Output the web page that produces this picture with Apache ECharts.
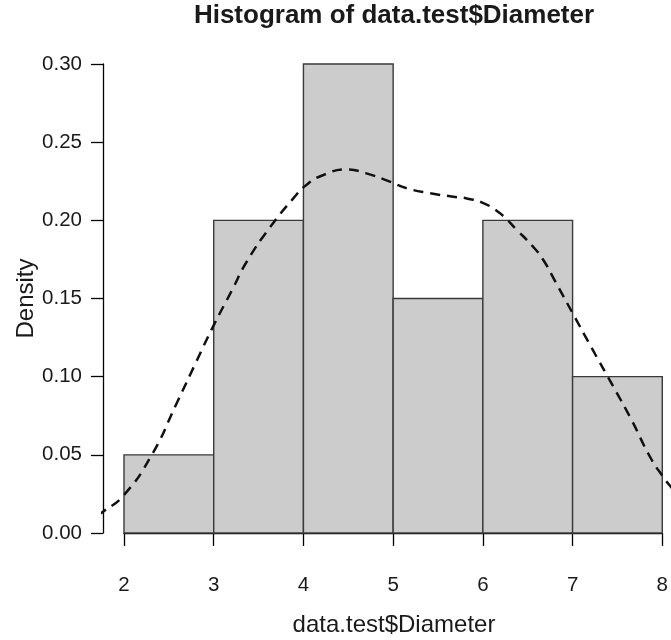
<!DOCTYPE html>
<html>
<head>
<meta charset="utf-8">
<script src="https://cdn.jsdelivr.net/npm/echarts@6/dist/echarts.min.js"></script>
<style>
html,body{margin:0;padding:0;background:#fff;}
#chart{width:671px;height:640px;}
</style>
</head>
<body>
<div id="chart"></div>
<script>
// Histogram bins (left edge, right edge) and densities
const binStarts = [2, 3, 4, 5, 6, 7];
const binEnds   = [3, 4, 5, 6, 7, 8];
const densities = [0.05, 0.20, 0.30, 0.15, 0.20, 0.10];

// Kernel density estimate curve
const kdeX = [1.70, 1.766, 2.0, 2.31, 2.587, 2.8, 3.0, 3.2, 3.366, 3.625, 3.885, 4.03, 4.22, 4.48, 4.70, 4.96, 5.147, 5.41, 5.666, 5.815, 6.0, 6.186, 6.37, 6.556, 6.668, 6.8, 7.0, 7.2, 7.447, 7.65, 7.855, 8.0, 8.09, 8.2];
const kdeY = [0.0115, 0.0136, 0.0243, 0.050, 0.083, 0.109, 0.133, 0.155, 0.1735, 0.1955, 0.214, 0.2226, 0.229, 0.2326, 0.230, 0.2247, 0.2205, 0.2173, 0.2151, 0.214, 0.211, 0.2045, 0.194, 0.183, 0.1746, 0.161, 0.140, 0.119, 0.0936, 0.0723, 0.0488, 0.036, 0.0294, 0.0225];

const xTicks = [2, 3, 4, 5, 6, 7, 8];
const yTicks = [0, 0.05, 0.10, 0.15, 0.20, 0.25, 0.30];
// visible plotting region extent (R's usr range, right side cut at the image edge)
const xUsr = [1.76, 8.089];
const yUsr = [-0.012, 0.312];

const titleText = 'Histogram of data.test$Diameter';
const xTitle = 'data.test$Diameter';
const yTitle = 'Density';

const FONT = '"Liberation Sans", Arial, Helvetica, sans-serif';

const chart = echarts.init(document.getElementById('chart'), null, {renderer: 'canvas'});

const barData = binStarts.map((s, i) => [s, binEnds[i], densities[i]]);
const kdeData = kdeX.map((x, i) => [x, kdeY[i]]);

chart.setOption({
  animation: false,
  backgroundColor: '#ffffff',
  grid: [
    {left: 124, right: 8, top: 64, bottom: 107, containLabel: false},
    {left: 102.4, right: 0, top: 45.2, bottom: 88.2, containLabel: false}
  ],
  xAxis: [{
    type: 'value', gridIndex: 0,
    min: xTicks[0], max: xTicks[xTicks.length - 1], interval: 1,
    offset: 19,
    axisLine: {show: true, lineStyle: {color: '#000', width: 1.3}},
    axisTick: {show: true, length: 13, inside: false, lineStyle: {color: '#000', width: 1.3}},
    axisLabel: {show: true, margin: 23, color: '#1a1a1a', fontSize: 20.5, fontFamily: FONT,
      formatter: v => String(v)},
    splitLine: {show: false}
  }, {
    type: 'value', gridIndex: 1, min: xUsr[0], max: xUsr[1], show: false
  }],
  yAxis: [{
    type: 'value', gridIndex: 0,
    min: yTicks[0], max: yTicks[yTicks.length - 1], interval: 0.05,
    offset: 21,
    axisLine: {show: true, lineStyle: {color: '#000', width: 1.3}},
    axisTick: {show: true, length: 12, inside: false, lineStyle: {color: '#000', width: 1.3}},
    axisLabel: {show: true, margin: 21, color: '#1a1a1a', fontSize: 20.5, fontFamily: FONT,
      formatter: v => v.toFixed(2)},
    splitLine: {show: false}
  }, {
    type: 'value', gridIndex: 1, min: yUsr[0], max: yUsr[1], show: false
  }],
  series: [
    {
      type: 'custom',
      xAxisIndex: 0, yAxisIndex: 0,
      data: barData,
      encode: {x: [0, 1], y: 2},
      clip: false,
      renderItem: function (params, api) {
        const p0 = api.coord([api.value(0), api.value(2)]);
        const p1 = api.coord([api.value(1), 0]);
        return {
          type: 'rect',
          shape: {x: p0[0], y: p0[1], width: p1[0] - p0[0], height: p1[1] - p0[1]},
          style: {fill: '#cccccc', stroke: '#3a3a3a', lineWidth: 1.4}
        };
      },
      z: 2
    },
    {
      type: 'line',
      xAxisIndex: 1, yAxisIndex: 1,
      data: kdeData,
      smooth: 0.5,
      showSymbol: false,
      symbol: 'none',
      clip: true,
      lineStyle: {color: '#111', width: 2.5, type: [10, 7], cap: 'butt'},
      z: 3
    }
  ],
  graphic: [
    {type: 'text', x: 394, y: 16, style: {text: titleText, textAlign: 'center', textVerticalAlign: 'middle',
      font: 'bold 26px ' + FONT, fill: '#1a1a1a'}},
    {type: 'text', x: 394, y: 625, style: {text: xTitle, textAlign: 'center', textVerticalAlign: 'middle',
      font: '24px ' + FONT, fill: '#1a1a1a'}},
    {type: 'text', x: 26, y: 298.5, rotation: Math.PI / 2, style: {text: yTitle, textAlign: 'center', textVerticalAlign: 'middle',
      font: '24px ' + FONT, fill: '#1a1a1a'}}
  ]
});
</script>
</body>
</html>
